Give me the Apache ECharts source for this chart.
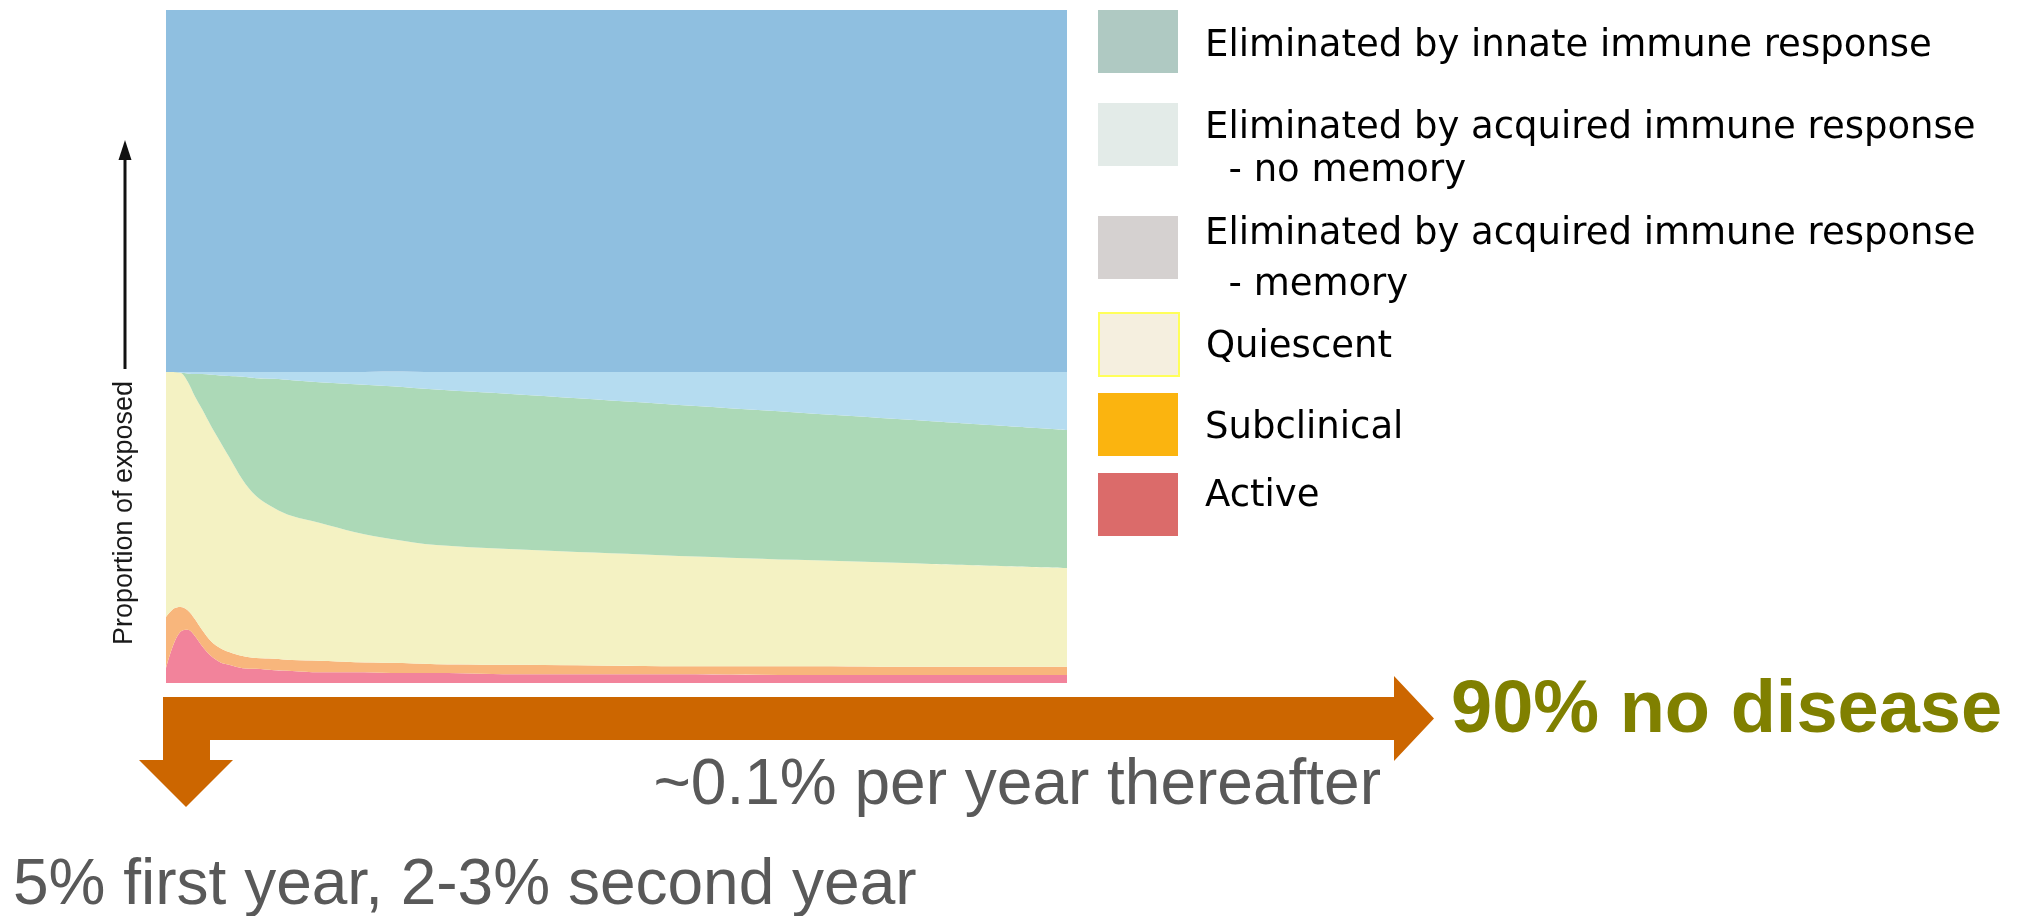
<!DOCTYPE html>
<html>
<head>
<meta charset="utf-8">
<title>Outcomes of exposure</title>
<script src="https://cdn.jsdelivr.net/npm/echarts@6.0.0/dist/echarts.min.js"></script>
<style>
  html, body { margin: 0; padding: 0; background: #ffffff; }
  #chart { width: 2028px; height: 916px; }
</style>
</head>
<body>
<div id="chart"></div>
<script>
// Time since exposure (arbitrary units, 0-100 across the plot)
const timeSteps = [0, 0.8, 1.6, 2.4, 3.2, 4, 5, 6, 7, 8.5, 10, 12, 14, 17, 21, 25, 30, 40, 55, 70, 85, 100];

// Share of the exposed population (%) in each state, stacked bottom to top
const active      = [2.2, 5.6, 7.6, 7.9, 7.0, 5.5, 4.0, 3.1, 2.7, 2.2, 2.1, 1.9, 1.8, 1.6, 1.6, 1.5, 1.5, 1.3, 1.3, 1.2, 1.2, 1.2];
const subclinical = [7.6, 5.4, 3.7, 2.9, 2.5, 2.4, 2.2, 2.1, 1.9, 1.8, 1.6, 1.7, 1.6, 1.7, 1.5, 1.5, 1.3, 1.4, 1.2, 1.3, 1.2, 1.2];
const quiescent   = [36.4, 35.2, 34.8, 34.0, 33.1, 32.8, 32.0, 30.7, 29.0, 26.2, 24.1, 22.4, 21.4, 20.5, 19.3, 18.4, 17.7, 17.1, 16.5, 15.8, 15.3, 14.7];
const acquiredMemory   = [0, 0, 0, 1.2, 3.3, 5.2, 7.6, 9.8, 12.0, 15.3, 17.5, 19.2, 20.2, 20.9, 22.0, 22.7, 23.1, 23.0, 22.5, 21.9, 21.2, 20.5];
const acquiredNoMemory = [0, 0, 0.1, 0.2, 0.3, 0.3, 0.4, 0.5, 0.6, 0.7, 0.9, 1.0, 1.2, 1.5, 1.8, 2.2, 2.6, 3.4, 4.7, 6.0, 7.3, 8.6];
const innate      = [53.8, 53.8, 53.8, 53.8, 53.8, 53.8, 53.8, 53.8, 53.8, 53.8, 53.8, 53.8, 53.8, 53.8, 53.8, 53.8, 53.8, 53.8, 53.8, 53.8, 53.8, 53.8];

// Legend entries, top to bottom
const stateNames = [
  'Eliminated by innate immune response',
  'Eliminated by acquired immune response - no memory',
  'Eliminated by acquired immune response - memory',
  'Quiescent',
  'Subclinical',
  'Active'
];
const legendLines = [
  ['Eliminated by innate immune response'],
  ['Eliminated by acquired immune response', '  - no memory'],
  ['Eliminated by acquired immune response', '  - memory'],
  ['Quiescent'],
  ['Subclinical'],
  ['Active']
];

// Annotations
const axisLabel = 'Proportion of exposed';
const outcomeLabel = '90% no disease';
const laterRateLabel = '~0.1% per year thereafter';
const earlyRateLabel = '5% first year, 2-3% second year';

const areaColors   = ['#8fbfe0', '#b5dcf0', '#acd9b7', '#f4f2c3', '#f8b67c', '#f2839b'];
const legendColors = ['#afc9c2', '#e3ebe8', '#d5d1d0', '#f5efdf', '#fbb40f', '#db6b6a'];

const layers = [innate, acquiredNoMemory, acquiredMemory, quiescent, subclinical, active];

function pairs(values) {
  return timeSteps.map((t, i) => [t, values[i]]);
}

// Series are added bottom-first so the stack builds upward.
// The x axis is a time axis so that stacking happens along y.
const series = [];
for (let k = layers.length - 1; k >= 0; k--) {
  series.push({
    name: stateNames[k],
    type: 'line',
    stack: 'exposed',
    data: pairs(layers[k]),
    smooth: 0.35,
    showSymbol: false,
    symbol: 'none',
    lineStyle: { width: 0 },
    areaStyle: { color: areaColors[k], opacity: 1 },
    itemStyle: { color: areaColors[k] },
    emphasis: { disabled: true },
    silent: true,
    animation: false
  });
}

// One legend block per state so each row sits at its own height.
// A thin spacer line above (positive) or below (negative) nudges the label
// relative to its swatch; the block top accounts for labels taller than the swatch.
const ICON_W = 80, ICON_H = 63;
const legendTops = [10, 90.5, 195.5, 312, 393, 473];
const labelShift = [5, 15, 12, 3, 4, -8];
const legendLineHeights = [42, 43, 51, 42, 42, 42];

const legends = stateNames.map((name, k) => {
  const L = legendLineHeights[k];
  const spacer = Math.abs(labelShift[k]) * 2;
  const body = legendLines[k].map(s => '{t|' + s + '}').join('\n');
  let text = body;
  if (labelShift[k] > 0) text = '{g| }\n' + body;
  if (labelShift[k] < 0) text = body + '\n{g| }';
  return {
    left: 1098,
    top: legendTops[k],
    orient: 'vertical',
    padding: 0,
    itemWidth: ICON_W,
    itemHeight: ICON_H,
    icon: 'rect',
    selectedMode: false,
    formatter: () => text,
    textStyle: {
      fontFamily: 'DejaVu Sans',
      fontSize: 37,
      color: '#000000',
      padding: [0, 0, 0, 22],
      rich: {
        t: { fontFamily: 'DejaVu Sans', fontSize: 37, color: '#000000', lineHeight: L },
        g: { fontSize: 2, lineHeight: spacer, color: '#ffffff' }
      }
    },
    data: [{
      name: name,
      itemStyle: k === 3
        ? { color: legendColors[k], borderColor: '#ffff5a', borderWidth: 2 }
        : { color: legendColors[k], borderWidth: 0 }
    }]
  };
});

const chart = echarts.init(document.getElementById('chart'), null, { renderer: 'canvas' });

chart.setOption({
  backgroundColor: '#ffffff',
  animation: false,
  grid: { left: 166, top: 10, width: 901, height: 673, containLabel: false },
  xAxis: {
    type: 'time', min: 0, max: 100,
    show: false
  },
  yAxis: {
    type: 'value', min: 0, max: 100,
    show: false
  },
  legend: legends,
  series: series,
  graphic: [
    // vertical axis arrow
    {
      type: 'line',
      shape: { x1: 125, y1: 369, x2: 125, y2: 154 },
      style: { stroke: '#111111', lineWidth: 3 }
    },
    {
      type: 'polygon',
      shape: { points: [[118.5, 160], [125, 140], [131.5, 160]] },
      style: { fill: '#111111' }
    },
    {
      type: 'text',
      x: 125, y: 513,
      rotation: Math.PI / 2,
      style: {
        text: axisLabel,
        fontFamily: 'Liberation Sans, Arial, sans-serif',
        fontSize: 27,
        fill: '#1a1a1a',
        align: 'center',
        verticalAlign: 'middle'
      }
    },
    // orange timeline arrows
    {
      type: 'polygon',
      shape: {
        points: [
          [163, 697], [1394, 697], [1394, 676], [1434, 718.5], [1394, 761], [1394, 740],
          [210, 740], [210, 760], [233, 760], [186, 807], [139, 760], [163, 760]
        ]
      },
      style: { fill: '#cc6600' }
    },
    {
      type: 'text',
      x: 1451, y: 712,
      style: {
        text: outcomeLabel,
        fontFamily: 'Liberation Sans, Arial, sans-serif',
        fontWeight: 'bold',
        fontSize: 74,
        fill: '#808000',
        align: 'left',
        verticalAlign: 'middle'
      }
    },
    {
      type: 'text',
      x: 1381, y: 786,
      style: {
        text: laterRateLabel,
        fontFamily: 'Liberation Sans, Arial, sans-serif',
        fontSize: 64,
        fill: '#595959',
        align: 'right',
        verticalAlign: 'middle'
      }
    },
    {
      type: 'text',
      x: 13, y: 886,
      style: {
        text: earlyRateLabel,
        fontFamily: 'Liberation Sans, Arial, sans-serif',
        fontSize: 64,
        fill: '#595959',
        align: 'left',
        verticalAlign: 'middle'
      }
    }
  ]
});
</script>
</body>
</html>
